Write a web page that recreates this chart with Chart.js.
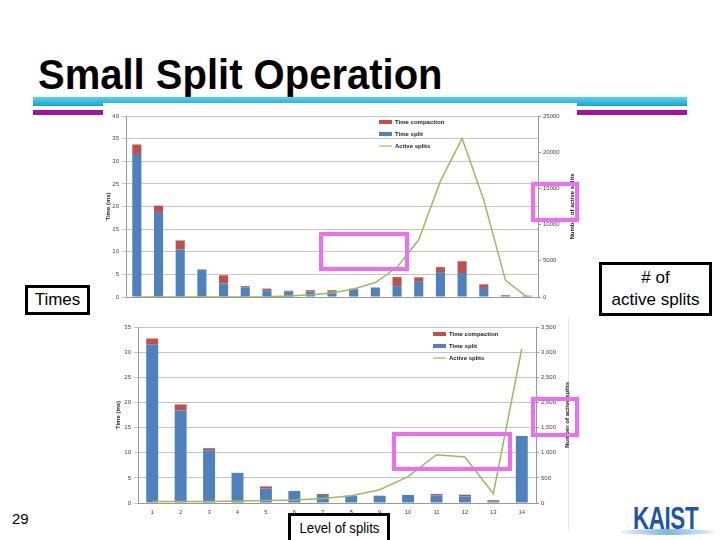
<!DOCTYPE html>
<html>
<head>
<meta charset="utf-8">
<script src="https://cdn.jsdelivr.net/npm/chart.js@4.4.0/dist/chart.umd.min.js"></script>
<style>
  body { margin: 0; background: #fff; }
  #slide { position: relative; width: 720px; height: 540px; overflow: hidden; font-family: 'Liberation Sans', Arial, sans-serif; background: #fff; }
  .abs { position: absolute; }
  #title { left: 38px; top: 52px; font-size: 40px; font-weight: bold; line-height: 40px; color: #000; white-space: nowrap; transform: scaleY(1.08); transform-origin: left top; }
  #teal { left: 33px; top: 97px; width: 654px; height: 9px; background: linear-gradient(#5fd0ea, #10a8cf); }
  .purple { top: 110px; height: 5px; background: #a3139f; }
  .img { background: #fff; }
  .box { border: 3px solid #000; background: #fff; color: #000; text-align: center; box-sizing: border-box; }
  .pink { border: 4px solid #f06cf0; box-sizing: border-box; }
  canvas { position: absolute; }
</style>
</head>
<body>
<div id="slide">
  <div id="title" class="abs">Small Split Operation</div>
  <div id="teal" class="abs"></div>
  <div class="abs purple" style="left:33px;width:70px;"></div>
  <div class="abs purple" style="left:577px;width:110px;"></div>

  <div class="abs img" style="left:103px;top:103px;width:474px;height:208px;"></div>
  <div class="abs img" style="left:103px;top:317px;width:465px;height:214px;border-right:1px solid #e8e8e8;"></div>

  <canvas id="topChart" width="474" height="208" style="left:103px;top:103px;"></canvas>
  <canvas id="botChart" width="470" height="214" style="left:103px;top:317px;"></canvas>

  <div class="abs pink" style="left:319px;top:232px;width:90px;height:39px;"></div>
  <div class="abs pink" style="left:531px;top:182px;width:48px;height:40px;"></div>
  <div class="abs pink" style="left:392px;top:432px;width:120px;height:39px;"></div>
  <div class="abs pink" style="left:531px;top:397px;width:48px;height:40px;"></div>

  <div class="abs box" style="left:25px;top:285px;width:65px;height:30px;font-size:17px;line-height:24px;">Times</div>
  <div class="abs box" style="left:599px;top:262px;width:113px;height:54px;font-size:17px;line-height:22px;padding-top:2px;"># of<br>active splits</div>
  <div class="abs box" style="left:288px;top:513px;width:102px;height:32px;font-size:15px;line-height:24px;"><span style="display:inline-block;transform:scaleX(0.88);">Level of splits</span></div>

  <div class="abs" style="left:12px;top:510px;font-size:15px;color:#000;">29</div>
  <div class="abs" style="left:633px;top:501px;font-size:31px;font-weight:bold;color:#1b56a6;transform:scaleX(0.72);transform-origin:left top;letter-spacing:-0.5px;">KAIST</div>
  <div class="abs" style="left:620px;top:529px;width:96px;height:6px;border-radius:50%;background:linear-gradient(90deg,#e6f2fb,#7bb6e4 50%,#e6f2fb);"></div>
</div>

<script>
// upper chart (levels 1..19)
const topLevels = ['1','2','3','4','5','6','7','8','9','10','11','12','13','14','15','16','17','18','19'];
const topSplit = [31.6, 18.8, 10.5, 6.0, 3.0, 2.1, 1.5, 1.25, 1.25, 1.25, 1.6, 2.0, 2.4, 3.5, 5.5, 5.3, 2.0, 0.3, 0.2];
const topCompaction = [2.1, 1.4, 2.0, 0.1, 1.8, 0.3, 0.35, 0.15, 0.25, 0.25, 0.25, 0.1, 2.0, 0.85, 1.1, 2.6, 0.8, 0.15, 0.1];
const topActive = [0, 0, 0, 0, 0, 10, 40, 150, 300, 550, 1100, 2000, 4100, 7900, 16000, 21900, 13400, 2300, 0];

// lower chart (levels 1..14)
const botLevels = ['1','2','3','4','5','6','7','8','9','10','11','12','13','14'];
const botSplit = [31.5, 18.4, 10.5, 6.0, 2.85, 2.4, 1.6, 1.45, 1.45, 1.6, 1.5, 1.3, 0.3, 13.3];
const botCompaction = [1.2, 1.2, 0.4, 0, 0.45, 0, 0.2, 0, 0, 0, 0.3, 0.35, 0.25, 0];
const botActive = [30, 30, 30, 40, 50, 60, 90, 145, 265, 525, 960, 915, 185, 3070];

const blue = '#4f81bd';
const red = '#c0504d';
const green = '#9bbb59';
const tickFont = { family: "'Liberation Sans', Arial, sans-serif", size: 6 };
const titleFont = { family: "'Liberation Sans', Arial, sans-serif", size: 6, weight: 'bold' };

// vertical legend + right axis title (excel style, reads bottom to top)
const sideDecor = {
  id: 'sideDecor',
  afterDraw(chart, args, o) {
    const ctx = chart.ctx;
    const ds = chart.data.datasets;
    ctx.save();
    ctx.font = 'bold 6px "Liberation Sans", Arial, sans-serif';
    ctx.textBaseline = 'middle';
    ctx.textAlign = 'left';
    [2, 1, 0].forEach((idx, row) => {
      const d = ds[idx];
      const y = o.y + row * o.gap;
      if (d.type === 'line') {
        ctx.strokeStyle = d.borderColor;
        ctx.lineWidth = 1.2;
        ctx.beginPath();
        ctx.moveTo(o.x, y);
        ctx.lineTo(o.x + 13, y);
        ctx.stroke();
      } else {
        ctx.fillStyle = d.backgroundColor;
        ctx.fillRect(o.x, y - 2, 13, 4);
      }
      ctx.fillStyle = '#222';
      ctx.fillText(d.label, o.x + 16, y);
    });
    const area = chart.chartArea;
    ctx.translate(o.tx, (area.top + area.bottom) / 2);
    ctx.rotate(-Math.PI / 2);
    ctx.textAlign = 'center';
    ctx.fillText('Number of active splits', 0, 0);
    ctx.restore();
  }
};

function buildChart(id, labels, split, comp, active, cfg) {
  return new Chart(document.getElementById(id), {
    type: 'bar',
    data: {
      labels: labels,
      datasets: [
        { type: 'line', label: 'Active splits', data: active, yAxisID: 'y1', borderColor: green,
          borderWidth: 1.5, pointRadius: 0, tension: 0, order: 0 },
        { label: 'Time split', data: split, backgroundColor: blue, yAxisID: 'y', order: 1,
          barPercentage: 0.42, categoryPercentage: 1 },
        { label: 'Time compaction', data: comp, backgroundColor: red, yAxisID: 'y', order: 1,
          barPercentage: 0.42, categoryPercentage: 1 }
      ]
    },
    options: {
      responsive: false,
      animation: false,
      layout: { padding: { top: cfg.padTop, left: 0, right: 0, bottom: 0 } },
      plugins: {
        legend: { display: false },
        tooltip: { enabled: false },
        sideDecor: cfg.decor
      },
      scales: {
        x: {
          stacked: true,
          grid: { display: false },
          border: { color: '#999' },
          ticks: { font: tickFont, color: '#444', padding: cfg.xPad, maxRotation: 0, autoSkip: false },
          title: { display: !!cfg.xTitle, text: cfg.xTitle || '', font: titleFont, color: '#333', padding: 0 },
          afterFit: s => { s.height = cfg.xH; }
        },
        y: {
          stacked: true,
          min: 0,
          max: cfg.yMax,
          ticks: { stepSize: 5, font: tickFont, color: '#444', padding: 3 },
          grid: { color: '#c4c4c4', tickLength: 4 },
          border: { color: '#999' },
          title: { display: true, text: 'Time (ms)', font: titleFont, color: '#222', padding: { top: cfg.titlePad, bottom: 0 } },
          afterFit: s => { s.width = cfg.yW; }
        },
        y1: {
          position: 'right',
          min: 0,
          max: cfg.y1Max,
          ticks: { stepSize: cfg.y1Step, font: tickFont, color: '#444', padding: 2, callback: cfg.y1Fmt },
          grid: { drawOnChartArea: false, tickLength: 3, color: '#999' },
          border: { color: '#999' },
          afterFit: s => { s.width = cfg.y1W; }
        }
      }
    },
    plugins: [sideDecor]
  });
}

buildChart('topChart', topLevels, topSplit, topCompaction, topActive, {
  padTop: 13, xH: 14, xPad: 6, yW: 23, y1W: 39, titlePad: 2,
  yMax: 40, y1Max: 25000, y1Step: 5000, y1Fmt: v => String(v),
  decor: { x: 276, y: 19, gap: 12, tx: 469 }
});

buildChart('botChart', botLevels, botSplit, botCompaction, botActive, {
  padTop: 10, xH: 28, xPad: -2, yW: 35, y1W: 37, titlePad: 12, xTitle: 'Level of splits',
  yMax: 35, y1Max: 3500, y1Step: 500, y1Fmt: v => v.toLocaleString('en-US'),
  decor: { x: 330, y: 17, gap: 12, tx: 464 }
});
</script>
</body>
</html>
